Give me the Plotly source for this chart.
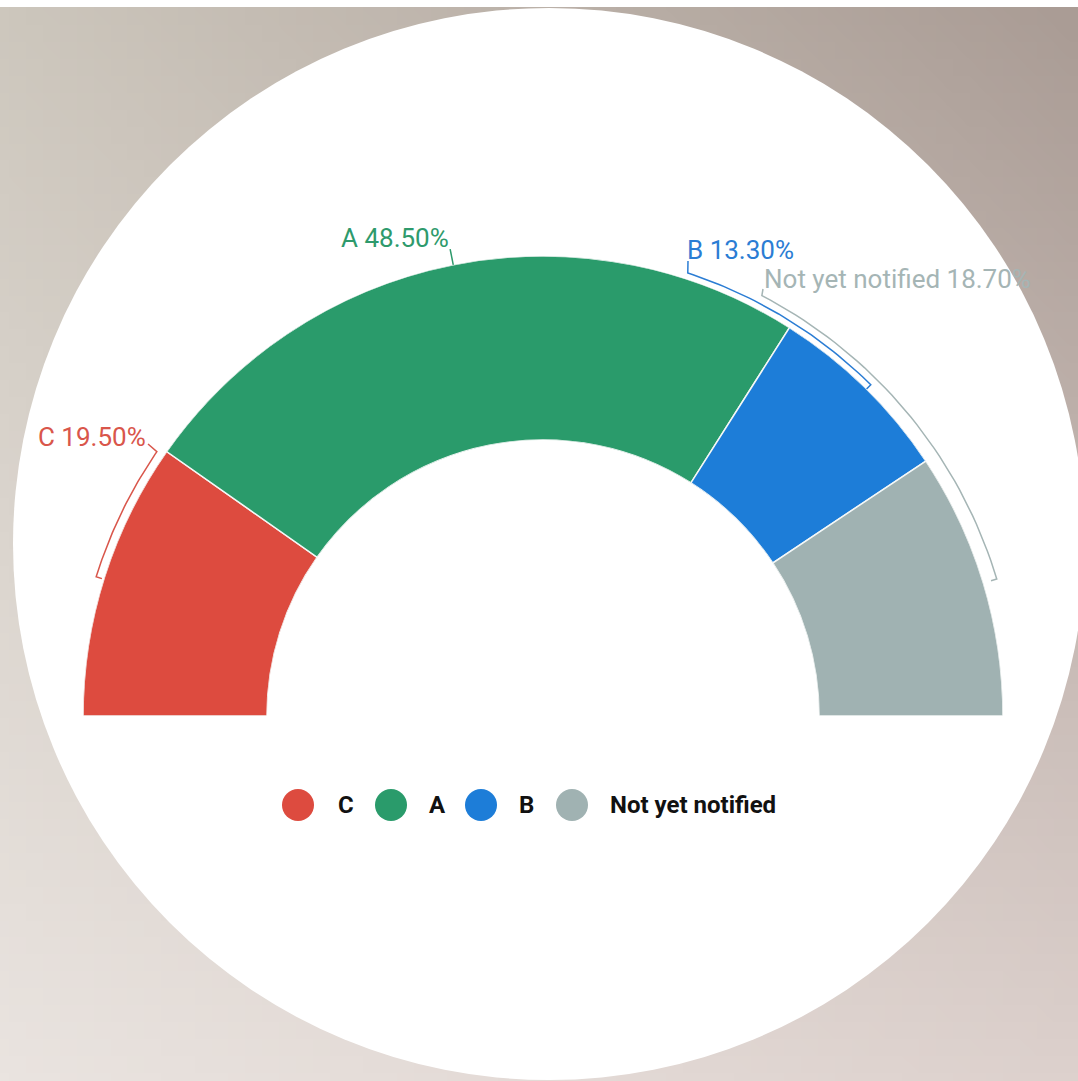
import math
import zlib
import struct
import base64
import numpy as np
import plotly.graph_objects as go

# ---------------- data ----------------
categories = ["C", "A", "B", "Not yet notified"]
shares = [19.50, 48.50, 13.30, 18.70]
label_texts = ["C 19.50%", "A 48.50%", "B 13.30%", "Not yet notified 18.70%"]

# ---------------- style ----------------
slice_colors = ["#DD4B3F", "#2A9B6B", "#1D7DD8", "#A0B2B2"]
label_colors = ["#D9564B", "#2E9A6C", "#2B7DD4", "#A5B5B5"]

W, H = 1078, 1081
CX, CY, R_OUT = 543, 716, 460       # donut centre / outer radius (px)
HOLE = 0.6
BG_CX, BG_CY, BG_R = 549, 544, 536   # white disc behind the chart

# label anchor (px) and leader/bracket geometry (theta in deg, 0 = left, clockwise)
label_pos = {
    "C": dict(x=148, y=437, xanchor="right"),
    "A": dict(x=451, y=238, xanchor="right"),
    "B": dict(x=685, y=250, xanchor="left"),
    "Not yet notified": dict(x=762, y=279, xanchor="left"),
}
brackets = {
    "C": dict(t0=34.4, t1=17.3, r=468, start=(148, 444)),
    "B": dict(t0=108.1, t1=134.7, r=466, start=(688, 261)),
    "Not yet notified": dict(t0=117.5, t1=163.2, r=474, start=(763, 289)),
}
legend_marker_x = [298, 391, 481, 572]
legend_text_x = [336, 427, 517, 608]
LEGEND_Y = 805

# ---------------- geometry from data ----------------
total = sum(shares)
widths = [s / total * 180.0 for s in shares]
starts = np.concatenate([[0.0], np.cumsum(widths)[:-1]])
centers = starts + np.array(widths) / 2.0


def px(theta_deg, r):
    t = math.radians(theta_deg)
    return CX - r * math.cos(t), CY - r * math.sin(t)


# ---------------- background image (gradient) ----------------
def gradient_png(w, h, tl, tr, bl, br):
    u = np.linspace(0, 1, w)[None, :, None]
    v = np.linspace(0, 1, h)[:, None, None]
    tl, tr, bl, br = [np.array(c, float)[None, None, :] for c in (tl, tr, bl, br)]
    img = (1 - v) * ((1 - u) * tl + u * tr) + v * ((1 - u) * bl + u * br)
    arr = np.clip(img, 0, 255).astype(np.uint8)
    raw = b"".join(b"\x00" + row.tobytes() for row in arr)

    def chunk(t, d):
        return struct.pack(">I", len(d)) + t + d + struct.pack(">I", zlib.crc32(t + d) & 0xFFFFFFFF)

    png = (b"\x89PNG\r\n\x1a\n"
           + chunk(b"IHDR", struct.pack(">IIBBBBB", w, h, 8, 2, 0, 0, 0))
           + chunk(b"IDAT", zlib.compress(raw, 9))
           + chunk(b"IEND", b""))
    return "data:image/png;base64," + base64.b64encode(png).decode()


bg_src = gradient_png(64, 64, (205, 199, 189), (170, 156, 149), (234, 228, 224), (221, 209, 205))

fig = go.Figure()

# ---------------- donut (half) ----------------
fig.add_trace(go.Barpolar(
    r=[1] * len(shares),
    theta=centers,
    width=widths,
    base=0,
    marker=dict(color=slice_colors, line=dict(color="#F4F7F6", width=1.5)),
    text=categories,
    hovertemplate="%{text}<extra></extra>",
    showlegend=False,
    subplot="polar",
))

# ---------------- leaders / brackets ----------------
for i, cat in enumerate(categories):
    if cat in brackets:
        b = brackets[cat]
        thetas = np.linspace(b["t0"], b["t1"], 40)
        xs = [b["start"][0]]
        ys = [b["start"][1]]
        for t in thetas:
            x, y = px(t, b["r"])
            xs.append(x)
            ys.append(y)
        x, y = px(b["t1"], b["r"] - 6)
        xs.append(x)
        ys.append(y)
    else:
        x0, y0 = px(centers[i], R_OUT)
        x1, y1 = px(centers[i], R_OUT + 16)
        xs, ys = [x1, x0], [y1, y0]
    fig.add_trace(go.Scatter(
        x=xs, y=ys, mode="lines",
        line=dict(color=label_colors[i], width=1.5),
        hoverinfo="skip", showlegend=False,
    ))

# ---------------- labels ----------------
for i, cat in enumerate(categories):
    p = label_pos[cat]
    fig.add_annotation(
        x=p["x"], y=p["y"], xref="x", yref="y",
        text=label_texts[i], showarrow=False,
        xanchor=p["xanchor"], yanchor="middle",
        font=dict(family="Roboto", size=26, color=label_colors[i]),
    )

# ---------------- legend ----------------
fig.add_trace(go.Scatter(
    x=legend_marker_x, y=[LEGEND_Y] * len(categories),
    mode="markers",
    marker=dict(size=32, color=slice_colors, line=dict(width=0)),
    text=categories, hovertemplate="%{text}<extra></extra>",
    showlegend=False,
))
for i, cat in enumerate(categories):
    fig.add_annotation(
        x=legend_text_x[i], y=LEGEND_Y, xref="x", yref="y",
        text="<b>%s</b>" % cat, showarrow=False,
        xanchor="left", yanchor="middle",
        font=dict(family="Roboto", size=24, color="#111111"),
    )

# ---------------- layout ----------------
fig.update_layout(
    width=W, height=H,
    margin=dict(l=0, r=0, t=0, b=0),
    paper_bgcolor="#D5CEC6",
    plot_bgcolor="rgba(0,0,0,0)",
    showlegend=False,
    xaxis=dict(range=[0, W], visible=False, fixedrange=True, domain=[0, 1]),
    yaxis=dict(range=[H, 0], visible=False, fixedrange=True, domain=[0, 1]),
    polar=dict(
        domain=dict(x=[(CX - R_OUT) / W, (CX + R_OUT) / W],
                    y=[(H - CY) / H, (H - CY + R_OUT) / H]),
        sector=[0, 180],
        hole=HOLE,
        bgcolor="rgba(0,0,0,0)",
        radialaxis=dict(visible=False, range=[0, 1]),
        angularaxis=dict(visible=False, rotation=180, direction="clockwise",
                         thetaunit="degrees"),
    ),
    images=[dict(source=bg_src, xref="paper", yref="paper", x=0, y=1,
                 sizex=1, sizey=1, xanchor="left", yanchor="top",
                 sizing="stretch", layer="below")],
    shapes=[
        dict(type="circle", xref="x", yref="y",
             x0=BG_CX - BG_R, x1=BG_CX + BG_R, y0=BG_CY - BG_R, y1=BG_CY + BG_R,
             fillcolor="white", line=dict(width=0), layer="below"),
        dict(type="rect", xref="x", yref="y", x0=0, x1=W, y0=0, y1=7,
             fillcolor="white", line=dict(width=0), layer="below"),
    ],
)

fig.write_html(
    "out.html",
    config={"displayModeBar": False},
    post_script="document.body.style.margin='0';document.body.style.overflow='hidden';",
)
